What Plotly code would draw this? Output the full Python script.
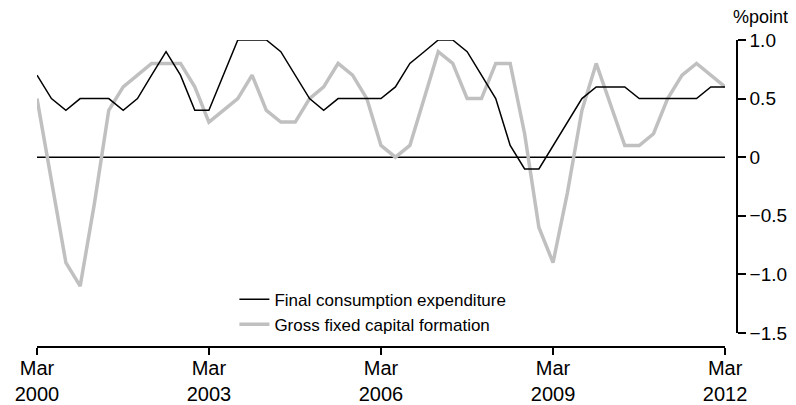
import pandas as pd
import plotly.graph_objects as go

quarters = pd.date_range("2000-03-01", periods=49, freq="3MS")

fce = [0.7, 0.5, 0.4, 0.5, 0.5, 0.5, 0.4, 0.5, 0.7, 0.9, 0.7, 0.4, 0.4, 0.7, 1.0, 1.0,
       1.0, 0.9, 0.7, 0.5, 0.4, 0.5, 0.5, 0.5, 0.5, 0.6, 0.8, 0.9, 1.0, 1.0, 0.9, 0.7,
       0.5, 0.1, -0.1, -0.1, 0.1, 0.3, 0.5, 0.6, 0.6, 0.6, 0.5, 0.5, 0.5, 0.5, 0.5, 0.6, 0.6]

gfcf = [0.5, -0.2, -0.9, -1.1, -0.4, 0.4, 0.6, 0.7, 0.8, 0.8, 0.8, 0.6, 0.3, 0.4, 0.5, 0.7,
        0.4, 0.3, 0.3, 0.5, 0.6, 0.8, 0.7, 0.5, 0.1, 0.0, 0.1, 0.5, 0.9, 0.8, 0.5, 0.5,
        0.8, 0.8, 0.2, -0.6, -0.9, -0.3, 0.4, 0.8, 0.45, 0.1, 0.1, 0.2, 0.5, 0.7, 0.8, 0.7, 0.6]

x_tick_vals = ["2000-03-01", "2003-03-01", "2006-03-01", "2009-03-01", "2012-03-01"]
x_tick_text = ["Mar<br>2000", "Mar<br>2003", "Mar<br>2006", "Mar<br>2009", "Mar<br>2012"]
y_tick_vals = [1.0, 0.5, 0, -0.5, -1.0, -1.5]
y_tick_text = ["1.0", "0.5", "0", "\u22120.5", "\u22121.0", "\u22121.5"]

names = ["Final consumption expenditure", "Gross fixed capital formation"]

FONT = "Liberation Sans, Arial, sans-serif"

fig = go.Figure()
fig.add_trace(go.Scatter(x=quarters, y=gfcf, name=names[1], mode="lines",
                         line=dict(color="#c0c0c0", width=3.5), legendrank=2))
fig.add_trace(go.Scatter(x=quarters, y=fce, name=names[0], mode="lines",
                         line=dict(color="#000000", width=1.5), legendrank=1))

fig.add_shape(type="line", xref="x", yref="y", x0=quarters[0], x1=quarters[-1], y0=0, y1=0,
              line=dict(color="black", width=1.5), layer="below")

fig.update_layout(
    width=796, height=405,
    margin=dict(l=29, r=67, t=32, b=66, autoexpand=False),
    plot_bgcolor="white", paper_bgcolor="white",
    showlegend=True,
    legend=dict(x=0.282, y=0.213, xanchor="left", yanchor="top",
                font=dict(family=FONT, size=17, color="black"),
                bgcolor="rgba(0,0,0,0)", itemwidth=30, tracegroupgap=0),
    xaxis=dict(domain=[0, 0.983], range=[quarters[0], quarters[-1]],
               anchor="free", position=0, automargin=False,
               tickvals=x_tick_vals, ticktext=x_tick_text,
               showline=True, linecolor="black", linewidth=1.5,
               ticks="outside", ticklen=7, tickcolor="black", tickwidth=1.5,
               ticklabelstandoff=-4,
               showgrid=False, zeroline=False,
               tickfont=dict(family=FONT, size=20, color="black")),
    yaxis=dict(domain=[14/307, 1], range=[-1.5, 1.0],
               anchor="free", position=1, side="right", automargin=False,
               tickvals=y_tick_vals, ticktext=y_tick_text,
               showline=True, linecolor="black", linewidth=1.5,
               ticks="outside", ticklen=8, tickcolor="black", tickwidth=1.5,
               showgrid=False, zeroline=False,
               tickfont=dict(family=FONT, size=19, color="black")),
    annotations=[dict(text="%point", xref="paper", yref="paper", x=1.0, y=1.0,
                      xanchor="left", yanchor="bottom", yshift=11, xshift=-6, showarrow=False,
                      font=dict(family=FONT, size=18, color="black"))],
)

fig.write_html("out.html")
